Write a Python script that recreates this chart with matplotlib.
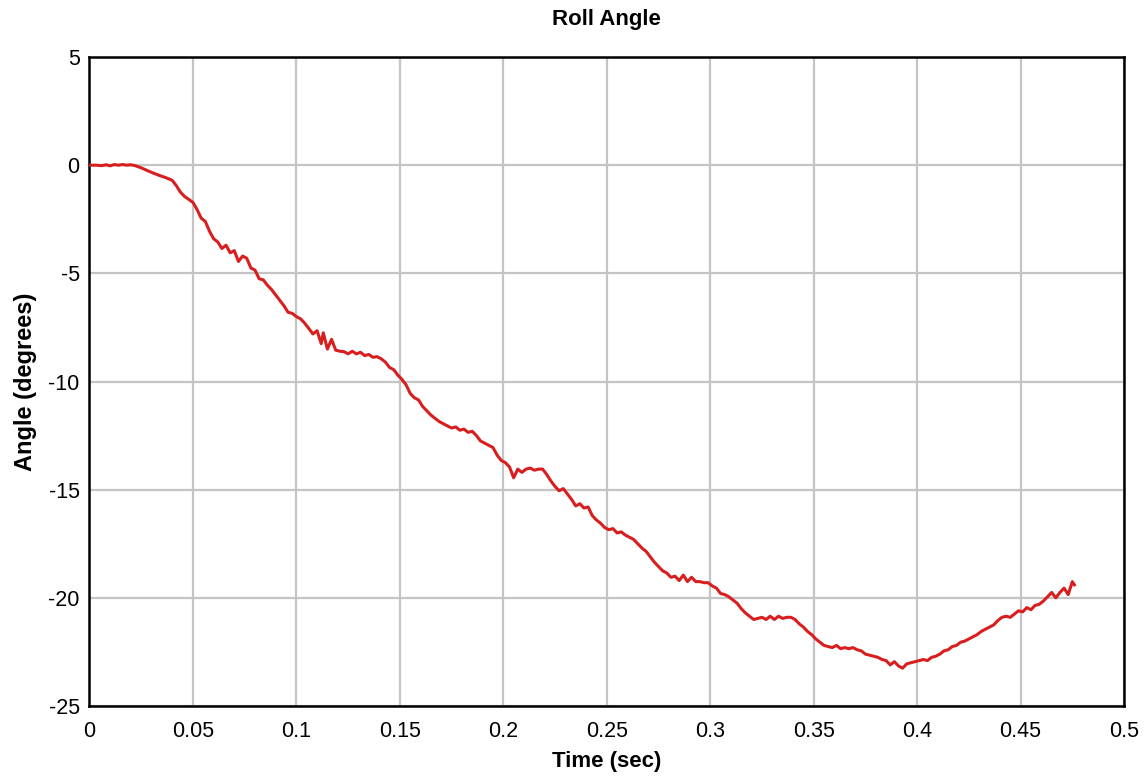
import matplotlib
matplotlib.use("Agg")
import matplotlib.pyplot as plt

plt.rcParams['font.family'] = ['Liberation Sans', 'DejaVu Sans']

time_s = [0.000, 0.003, 0.006, 0.008, 0.010, 0.012, 0.014, 0.016, 0.018, 0.020,
          0.022, 0.025, 0.028, 0.031, 0.034, 0.037, 0.040, 0.042, 0.044, 0.046,
          0.048, 0.050, 0.052, 0.054, 0.056, 0.058, 0.060, 0.062, 0.064, 0.066,
          0.068, 0.070, 0.072, 0.074, 0.076, 0.078, 0.080, 0.082, 0.084, 0.086,
          0.088, 0.090, 0.092, 0.094, 0.096, 0.098, 0.100, 0.102, 0.104, 0.106,
          0.108, 0.110, 0.112, 0.113, 0.115, 0.117, 0.119, 0.121, 0.123, 0.125,
          0.127, 0.129, 0.131, 0.133, 0.135, 0.137, 0.139, 0.141, 0.143, 0.145,
          0.147, 0.149, 0.151, 0.153, 0.155, 0.157, 0.159, 0.161, 0.163, 0.165,
          0.167, 0.169, 0.171, 0.173, 0.175, 0.177, 0.179, 0.181, 0.183, 0.185,
          0.187, 0.189, 0.191, 0.193, 0.195, 0.197, 0.199, 0.201, 0.203, 0.205,
          0.207, 0.209, 0.211, 0.213, 0.215, 0.217, 0.219, 0.221, 0.223, 0.225,
          0.227, 0.229, 0.231, 0.233, 0.235, 0.237, 0.239, 0.241, 0.243, 0.245,
          0.247, 0.249, 0.251, 0.253, 0.255, 0.257, 0.259, 0.261, 0.263, 0.265,
          0.267, 0.269, 0.271, 0.273, 0.275, 0.277, 0.279, 0.281, 0.283, 0.285,
          0.287, 0.289, 0.291, 0.293, 0.295, 0.297, 0.299, 0.301, 0.303, 0.305,
          0.307, 0.309, 0.311, 0.313, 0.315, 0.317, 0.319, 0.321, 0.323, 0.325,
          0.327, 0.329, 0.331, 0.333, 0.335, 0.337, 0.339, 0.341, 0.343, 0.345,
          0.347, 0.349, 0.351, 0.353, 0.355, 0.357, 0.359, 0.361, 0.363, 0.365,
          0.367, 0.369, 0.371, 0.373, 0.375, 0.377, 0.379, 0.381, 0.383, 0.385,
          0.387, 0.389, 0.391, 0.393, 0.395, 0.397, 0.399, 0.401, 0.403, 0.405,
          0.407, 0.409, 0.411, 0.413, 0.415, 0.417, 0.419, 0.421, 0.423, 0.425,
          0.427, 0.429, 0.431, 0.433, 0.435, 0.437, 0.439, 0.441, 0.443, 0.445,
          0.447, 0.449, 0.451, 0.453, 0.455, 0.457, 0.459, 0.461, 0.463, 0.465,
          0.467, 0.469, 0.471, 0.473, 0.475, 0.476]

roll_deg = [0.00, 0.00, -0.02, 0.02, -0.03, 0.03, 0.00, 0.03, 0.00, 0.02,
            -0.02, -0.12, -0.25, -0.37, -0.48, -0.58, -0.70, -0.95, -1.25, -1.45,
            -1.58, -1.72, -2.05, -2.45, -2.60, -3.05, -3.40, -3.55, -3.85, -3.70,
            -4.05, -3.95, -4.45, -4.20, -4.30, -4.75, -4.85, -5.25, -5.30, -5.55,
            -5.75, -6.00, -6.25, -6.50, -6.80, -6.85, -7.00, -7.10, -7.30, -7.55,
            -7.80, -7.65, -8.25, -7.75, -8.50, -8.05, -8.55, -8.60, -8.62, -8.72,
            -8.60, -8.72, -8.65, -8.80, -8.75, -8.88, -8.85, -8.95, -9.10, -9.35,
            -9.45, -9.70, -9.90, -10.15, -10.55, -10.75, -10.85, -11.15, -11.35, -11.55,
            -11.70, -11.85, -11.95, -12.05, -12.15, -12.10, -12.25, -12.20, -12.35, -12.30,
            -12.50, -12.75, -12.85, -12.95, -13.05, -13.40, -13.65, -13.75, -13.95, -14.45,
            -14.05, -14.20, -14.05, -14.00, -14.10, -14.05, -14.05, -14.30, -14.60, -14.85,
            -15.05, -14.95, -15.20, -15.45, -15.75, -15.65, -15.85, -15.80, -16.20, -16.40,
            -16.55, -16.75, -16.85, -16.80, -17.00, -16.95, -17.10, -17.20, -17.30, -17.50,
            -17.70, -17.85, -18.10, -18.35, -18.55, -18.75, -18.85, -19.05, -19.00, -19.20,
            -18.95, -19.25, -19.05, -19.25, -19.25, -19.30, -19.30, -19.45, -19.55, -19.80,
            -19.85, -19.95, -20.10, -20.25, -20.50, -20.70, -20.85, -21.00, -20.95, -20.90,
            -21.00, -20.85, -21.00, -20.85, -20.95, -20.90, -20.90, -21.00, -21.20, -21.35,
            -21.55, -21.70, -21.90, -22.05, -22.20, -22.25, -22.30, -22.20, -22.35, -22.30,
            -22.35, -22.30, -22.40, -22.45, -22.60, -22.65, -22.70, -22.75, -22.85, -22.90,
            -23.10, -22.95, -23.15, -23.25, -23.05, -23.00, -22.95, -22.90, -22.85, -22.90,
            -22.75, -22.70, -22.60, -22.45, -22.40, -22.25, -22.20, -22.05, -22.00, -21.90,
            -21.80, -21.70, -21.55, -21.45, -21.35, -21.25, -21.05, -20.90, -20.85, -20.90,
            -20.75, -20.60, -20.65, -20.45, -20.55, -20.35, -20.30, -20.15, -19.95, -19.75,
            -20.00, -19.75, -19.55, -19.85, -19.25, -19.40]

x_ticks = [0, 0.05, 0.1, 0.15, 0.2, 0.25, 0.3, 0.35, 0.4, 0.45, 0.5]
x_tick_labels = ["0", "0.05", "0.1", "0.15", "0.2", "0.25", "0.3", "0.35", "0.4", "0.45", "0.5"]
y_ticks = [5, 0, -5, -10, -15, -20, -25]
y_tick_labels = ["5", "0", "-5", "-10", "-15", "-20", "-25"]

fig = plt.figure(figsize=(11.47, 7.76), dpi=100)
ax = fig.add_axes([0.078, 0.0902, 0.902, 0.8363])

ax.plot(time_s, roll_deg, color='#d81e1e', linewidth=2.2, zorder=3)

ax.set_xlim(0, 0.5)
ax.set_ylim(-25, 5)
ax.set_xticks(x_ticks)
ax.set_xticklabels(x_tick_labels)
ax.set_yticks(y_ticks)
ax.set_yticklabels(y_tick_labels)
ax.grid(True, color='#c4c4c4', linewidth=1.6, zorder=0)
ax.tick_params(axis='both', length=0, labelsize=15.5, colors='black')
ax.tick_params(axis='x', pad=11)
ax.tick_params(axis='y', pad=7)
for s in ax.spines.values():
    s.set_color('black')
    s.set_linewidth(1.8)

ax.set_title("Roll Angle", fontsize=16, fontweight='bold', pad=23)
ax.set_xlabel("Time (sec)", fontsize=16, fontweight='bold', labelpad=6)
ax.set_ylabel("Angle (degrees)", fontsize=17, fontweight='bold', labelpad=8)

fig.savefig("out.png", dpi=100, facecolor='white')
